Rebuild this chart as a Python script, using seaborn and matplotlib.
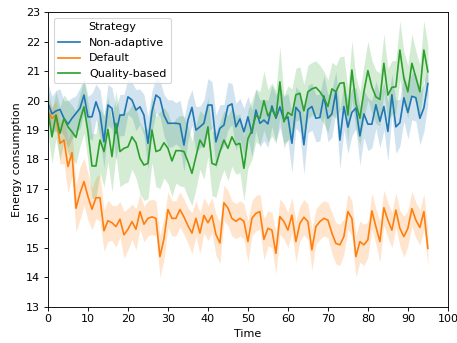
import numpy as np
import pandas as pd
import matplotlib
matplotlib.use("Agg")
import matplotlib.pyplot as plt
import seaborn as sns

time = list(range(96))
strategies = ["Non-adaptive", "Default", "Quality-based"]
colors = ["#1f77b4", "#ff7f0e", "#2ca02c"]

non_adaptive = [
    19.91, 19.55, 19.65, 19.70, 19.40, 19.20, 19.40, 19.57, 19.74, 20.19,
    19.45, 19.45, 19.96, 19.57, 18.60, 19.85, 19.74, 18.89, 19.51, 19.51,
    20.13, 20.02, 19.68, 19.79, 19.51, 18.55, 19.62, 20.19, 20.08, 19.51,
    19.23, 19.23, 19.23, 19.21, 18.49, 19.34, 19.77, 19.00, 19.11, 19.23,
    19.85, 19.85, 18.60, 19.06, 19.17, 19.82, 19.89, 19.11, 19.38, 18.94,
    19.45, 18.89, 19.68, 19.23, 19.34, 19.21, 19.82, 19.40, 19.79, 19.34,
    19.45, 18.55, 19.77, 19.60, 18.50, 19.70, 19.80, 19.40, 19.43, 20.16,
    19.40, 19.55, 20.30, 18.66, 19.80, 19.10, 19.60, 19.75, 18.80, 19.55,
    19.20, 19.20, 19.86, 19.30, 19.80, 18.95, 20.20, 19.11, 19.25, 20.10,
    19.60, 20.15, 20.10, 19.40, 19.75, 20.58,
]
default = [
    19.62, 19.40, 19.51, 18.55, 18.66, 17.76, 18.23, 16.34, 16.85, 17.25,
    16.74, 16.31, 16.70, 16.70, 15.58, 15.92, 15.85, 15.72, 15.97, 15.44,
    15.63, 15.89, 15.63, 16.23, 15.80, 16.00, 16.05, 16.00, 14.70, 15.30,
    16.30, 16.00, 16.00, 16.30, 16.05, 15.75, 15.50, 16.00, 15.50, 16.10,
    15.85, 16.10, 15.45, 15.16, 16.53, 16.35, 16.00, 15.90, 16.00, 15.90,
    15.21, 16.00, 16.17, 16.23, 15.29, 15.66, 15.60, 14.81, 16.06, 15.89,
    15.60, 16.11, 15.21, 15.83, 16.04, 15.89, 14.93, 15.72, 15.89, 16.00,
    15.94, 15.50, 15.15, 15.10, 15.38, 16.23, 16.00, 14.70, 15.21, 15.10,
    15.27, 16.25, 15.72, 15.21, 16.36, 15.94, 15.60, 16.28, 15.66, 15.38,
    15.66, 16.33, 15.94, 15.69, 16.23, 14.98,
]
quality_based = [
    19.68, 18.77, 19.51, 18.89, 19.40, 19.11, 18.94, 18.75, 19.34, 19.79,
    18.94, 17.78, 17.78, 18.66, 18.27, 19.02, 18.10, 19.23, 18.27, 18.38,
    18.43, 18.77, 18.57, 18.04, 17.81, 17.87, 19.00, 18.27, 18.32, 18.57,
    18.38, 17.95, 18.30, 18.30, 18.27, 17.93, 17.53, 18.10, 18.66, 18.43,
    19.11, 17.87, 17.81, 18.27, 18.66, 18.38, 18.77, 18.50, 18.55, 17.70,
    18.70, 19.00, 19.50, 19.40, 20.00, 19.48, 19.70, 19.45, 20.64, 19.28,
    19.60, 19.50, 20.20, 20.25, 19.65, 20.30, 20.40, 20.45, 20.30, 20.10,
    19.80, 20.40, 20.30, 20.59, 20.61, 19.51, 21.04, 19.91, 19.40, 20.30,
    21.02, 20.47, 20.13, 20.04, 21.27, 20.19, 20.45, 20.47, 21.72, 20.76,
    20.30, 21.27, 20.79, 20.30, 21.72, 20.98,
]

# half-width of the 95% confidence band around each mean
non_adaptive_ci = [
    0.7, 0.6, 0.7, 0.7, 0.6, 0.8, 0.7, 0.6, 0.7, 0.6,
    0.7, 0.8, 0.6, 0.8, 0.9, 0.7, 0.7, 0.9, 0.7, 0.7,
    0.6, 0.6, 0.7, 0.6, 0.7, 0.9, 0.7, 0.6, 0.6, 0.7,
    0.8, 0.8, 0.7, 0.8, 0.9, 0.7, 0.6, 0.8, 0.7, 0.8,
    0.9, 0.8, 0.9, 0.8, 0.7, 0.8, 0.7, 0.8, 0.7, 0.8,
    0.7, 0.8, 0.7, 0.8, 0.7, 0.8, 0.7, 0.8, 0.7, 0.8,
    0.8, 1.0, 0.7, 0.7, 1.0, 0.8, 0.8, 0.8, 0.8, 0.7,
    0.8, 0.8, 0.7, 1.0, 0.8, 0.9, 0.8, 0.7, 1.0, 0.8,
    0.9, 0.8, 0.8, 0.9, 0.8, 1.0, 0.7, 0.9, 0.8, 0.8,
    0.9, 0.8, 0.8, 0.9, 0.8, 0.7,
]
default_ci = [
    0.4, 0.4, 0.5, 0.7, 0.8, 0.9, 0.8, 0.8, 0.9, 0.8,
    0.8, 0.7, 0.7, 0.8, 0.7, 0.7, 0.6, 0.7, 0.6, 0.8,
    0.7, 0.6, 0.7, 0.6, 0.6, 0.6, 0.6, 0.6, 0.7, 0.7,
    0.6, 0.6, 0.6, 0.6, 0.6, 0.6, 0.7, 0.6, 0.7, 0.6,
    0.6, 0.6, 0.7, 0.7, 0.6, 0.6, 0.6, 0.6, 0.6, 0.6,
    0.7, 0.6, 0.6, 0.6, 0.7, 0.6, 0.6, 0.7, 0.6, 0.6,
    0.6, 0.6, 0.7, 0.6, 0.6, 0.6, 0.7, 0.6, 0.6, 0.6,
    0.6, 0.7, 0.7, 0.7, 0.6, 0.6, 0.6, 0.7, 0.7, 0.7,
    0.6, 0.6, 0.6, 0.7, 0.6, 0.6, 0.6, 0.6, 0.6, 0.7,
    0.6, 0.6, 0.6, 0.6, 0.6, 0.6,
]
quality_based_ci = [
    0.8, 0.9, 0.8, 0.9, 0.8, 0.9, 0.9, 0.9, 0.9, 0.9,
    1.0, 1.1, 1.1, 1.1, 1.2, 1.1, 1.2, 1.1, 1.2, 1.2,
    1.2, 1.1, 1.2, 1.2, 1.2, 1.2, 1.1, 1.2, 1.3, 1.2,
    1.2, 1.2, 1.1, 1.2, 1.2, 1.2, 1.1, 1.1, 1.0, 1.1,
    1.0, 1.1, 1.1, 1.0, 1.0, 1.1, 1.0, 1.0, 1.0, 1.1,
    1.0, 1.0, 0.9, 0.9, 1.0, 0.9, 0.9, 0.9, 1.2, 0.9,
    0.9, 0.9, 0.9, 0.9, 0.9, 0.9, 0.9, 0.9, 0.9, 0.9,
    0.9, 0.9, 0.9, 0.9, 0.9, 0.9, 1.0, 0.9, 0.9, 0.9,
    1.0, 0.9, 0.9, 0.9, 1.0, 0.9, 0.9, 0.9, 1.0, 0.9,
    0.9, 1.0, 0.9, 0.9, 1.0, 0.9,
]

means = [non_adaptive, default, quality_based]
bands = [non_adaptive_ci, default_ci, quality_based_ci]

frames = []
for name, m, ci in zip(strategies, means, bands):
    m = np.asarray(m)
    ci = np.asarray(ci)
    frames.append(pd.DataFrame({
        "Time": time, "Energy consumption": m,
        "lower": m - ci, "upper": m + ci, "Strategy": name,
    }))
df = pd.concat(frames, ignore_index=True)

plt.rcParams.update(plt.rcParamsDefault)
DPI = 80
fig = plt.figure(figsize=(457 / DPI, 343 / DPI), dpi=DPI)
ax = fig.add_axes([0.105, 0.106, 0.875, 0.858])

palette = dict(zip(strategies, colors))
sns.lineplot(data=df, x="Time", y="Energy consumption", hue="Strategy",
             hue_order=strategies, palette=palette, errorbar=None,
             linewidth=1.5, ax=ax)
for name in strategies:
    sub = df[df["Strategy"] == name]
    ax.fill_between(sub["Time"], sub["lower"], sub["upper"],
                    color=palette[name], alpha=0.2, linewidth=0)

ax.set_xlim(0, 100)
ax.set_ylim(13, 23)
ax.set_xticks(range(0, 101, 10))
ax.set_yticks(range(13, 24))
ax.legend(title="Strategy", loc="upper left")

fig.savefig("out.png", dpi=DPI)
